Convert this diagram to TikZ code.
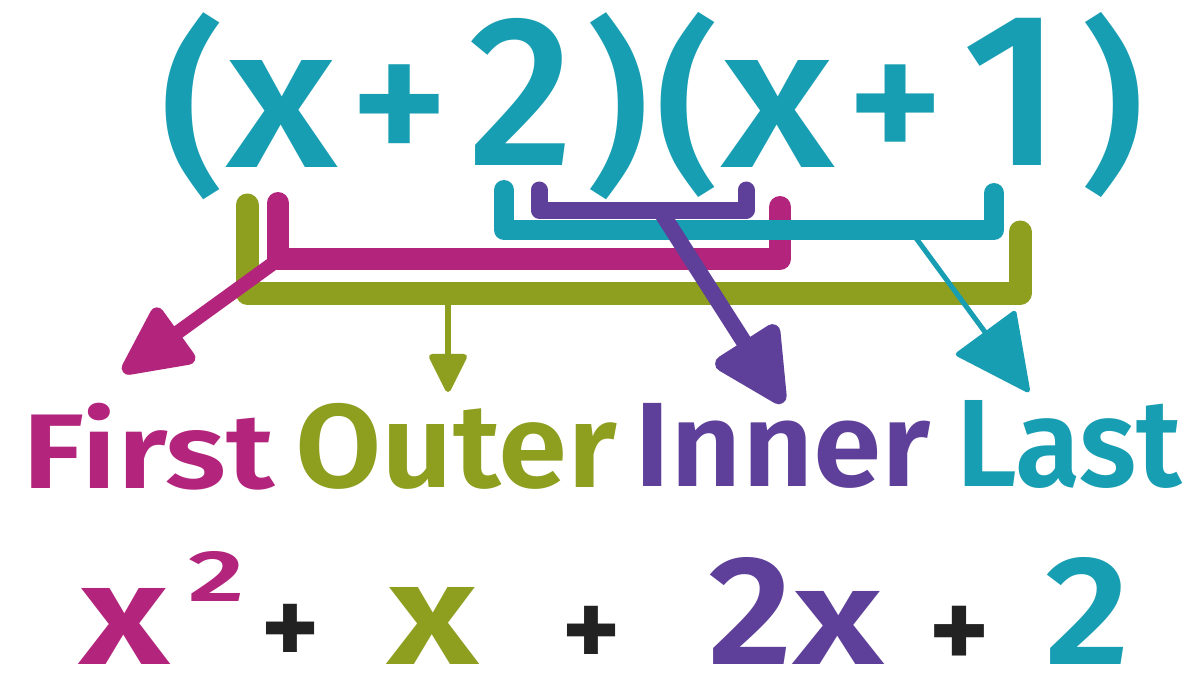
\documentclass[tikz,border=0pt]{standalone}
\usepackage{fontspec}
\setmainfont{Fira Sans}
\newfontfamily\fmed{Fira Sans Medium}
\newfontfamily\fsemi{Fira Sans SemiBold}
\usepackage{graphicx}
\usetikzlibrary{arrows.meta}
\definecolor{cteal}{RGB}{24,158,178}
\definecolor{cmag}{RGB}{179,36,124}
\definecolor{colive}{RGB}{142,158,30}
\definecolor{cpurp}{RGB}{94,63,153}
\definecolor{cblk}{RGB}{34,34,34}
\newcommand{\gfit}[3]{\resizebox*{#1}{#2}{#3}}
\newcommand{\gwid}[2]{\resizebox{#1}{!}{#2}}
\begin{document}
\begin{tikzpicture}[x=1pt,y=-1pt,
  glyph/.style={inner sep=0pt, outer sep=0pt, anchor=north west, font=\fsemi},
  topglyph/.style={glyph, font=\fmed, text=cteal},
  brk/.style={line cap=round, line join=round},
  arr/.style={line cap=round, line join=round}]
\useasboundingbox (0,0) rectangle (1194,673);
\fill[white] (0,0) rectangle (1194,673);
% ---- top expression
\begin{scope}[every node/.style={topglyph}]
\node (pa) at (160,13) {\gfit{64pt}{187pt}{(}};
\node (xa) at (226,60) {\gfit{111pt}{107pt}{x}};
\node (pla) at (349,65) {\gwid{100pt}{+}};
\node (twa) at (468,18) {\gfit{105pt}{147pt}{2}};
\node (pb) at (585,13) {\gfit{64pt}{187pt}{)}};
\node (pc) at (655,12) {\gfit{64pt}{185pt}{(}};
\node (xb) at (721,60) {\gfit{113pt}{107pt}{x}};
\node (plb) at (846,65) {\gwid{98pt}{+}};
\node (ona) at (962,18) {\gfit{100pt}{147pt}{1}};
\node (pd) at (1080,12) {\gfit{64pt}{185pt}{)}};
\end{scope}
% ---- bracket coordinates
\coordinate (g1) at (247,205); \coordinate (g2) at (247,293);
\coordinate (g3) at (1020,293); \coordinate (g4) at (1020,232);
\coordinate (m1) at (278,203); \coordinate (m2) at (278,259);
\coordinate (m3) at (780,259); \coordinate (m4) at (780,207);
\coordinate (t1) at (504,190); \coordinate (t2) at (504,230);
\coordinate (t3) at (994,230); \coordinate (t4) at (994,193);
\coordinate (u1) at (539,190); \coordinate (u2) at (539,210);
\coordinate (u3) at (746,210); \coordinate (u4) at (746,190);
% arrow coordinates
\coordinate (gs) at (448,300); \coordinate (ge) at (448,392);
\coordinate (ms) at (275,262); \coordinate (me) at (123,372);
\coordinate (ts) at (913,234); \coordinate (te) at (1029,392);
\coordinate (us) at (661,212); \coordinate (ue) at (783,403);
% green
\draw[brk, colive, line width=23pt] (g1) -- (g2) -- (g3) -- (g4);
\draw[arr, colive, line width=6pt, -{Triangle[length=42pt 0 0, width=40pt 0 0, round]}] (gs) -- (ge);
% magenta
\draw[brk, cmag, line width=22pt] (m1) -- (m2) -- (m3) -- (m4);
\draw[arr, cmag, line width=14pt, -{Triangle[length=78pt 0 0, width=72pt 0 0, round]}] (ms) -- (me);
% teal
\draw[brk, cteal, line width=20pt] (t1) -- (t2) -- (t3) -- (t4);
\draw[arr, cteal, line width=5pt, -{Triangle[length=78pt 0 0, width=76pt 0 0, round]}] (ts) -- (te);
% purple
\draw[brk, cpurp, line width=17pt] (u1) -- (u2) -- (u3) -- (u4);
\draw[arr, cpurp, line width=16pt, -{Triangle[length=84pt 0 0, width=80pt 0 0, round]}] (us) -- (ue);
% ---- labels
\node[glyph, text=cmag] (first) at (23,403) {\gfit{252pt}{87pt}{First}};
\node[glyph, text=colive] (outer) at (295,403) {\gfit{322pt}{86pt}{Outer}};
\node[glyph, text=cpurp] (inner) at (634,403) {\gfit{297pt}{85pt}{Inner}};
\node[glyph, text=cteal] (last) at (956,400) {\gfit{226pt}{88pt}{Last}};
% ---- result
\node[glyph, text=cmag] (rx) at (79,588) {\gfit{90pt}{76pt}{x}};
\node[glyph, text=cmag] (rsq) at (188,551) {\gfit{56pt}{50pt}{2}};
\node[glyph, text=cblk] (rp1) at (260,604) {\gwid{60pt}{+}};
\node[glyph, text=colive] (rx2) at (387,587) {\gfit{91pt}{77pt}{x}};
\node[glyph, text=cblk] (rp2) at (561,606) {\gwid{60pt}{+}};
\node[glyph, text=cpurp] (r2) at (708,557) {\gfit{84pt}{107pt}{2}};
\node[glyph, text=cpurp] (rx3) at (793,591) {\gfit{90pt}{73pt}{x}};
\node[glyph, text=cblk] (rp3) at (928,606) {\gwid{62pt}{+}};
\node[glyph, text=cteal] (r3) at (1045,557) {\gfit{84pt}{107pt}{2}};
\end{tikzpicture}
\end{document}
